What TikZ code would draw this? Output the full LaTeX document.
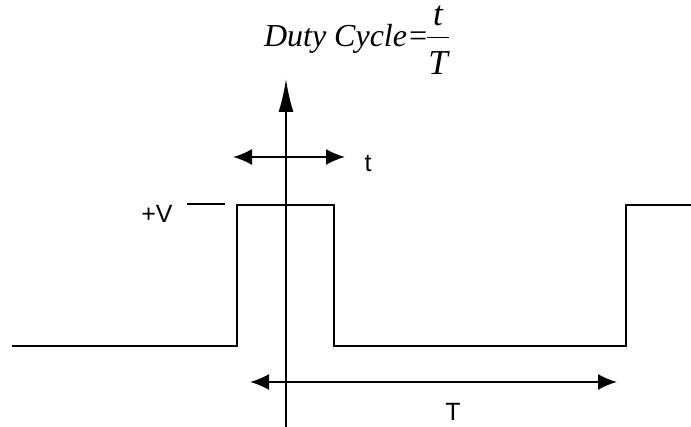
\documentclass[tikz,border=0pt]{standalone}
\usepackage{fontspec}
\setmainfont{Liberation Serif}
\setsansfont{Liberation Sans}
\usetikzlibrary{arrows.meta,positioning}

\begin{document}
\begin{tikzpicture}[x=1pt, y=-1pt, line width=2pt, >=Latex,
  every node/.style={inner sep=0pt, font=\sffamily\fontsize{25}{30}\selectfont},
  formula/.style={font=\rmfamily\itshape\fontsize{32}{38}\selectfont},
  ratio/.style={font=\rmfamily\itshape\fontsize{35}{42}\selectfont},
  span/.style={{Latex[length=19pt,width=16pt]}-{Latex[length=19pt,width=16pt]}},
  axis/.style={-{Latex[length=33pt,width=15pt]}}]
\useasboundingbox (0,0) rectangle (691,427);
% signal levels
\coordinate (start) at (12,346);
\coordinate (rise1) at (237,346);
\coordinate (fall1) at (334,205);
\coordinate (rise2) at (626,346);
\coordinate (stop) at (691,205);
\coordinate (origin) at (286,427);
\coordinate (top) at (286,79);
\coordinate (levelL) at (187,204);
\coordinate (levelR) at (225,204);
\coordinate (tL) at (233,157);
\coordinate (tR) at (345,157);
\coordinate (TL) at (250,382);
\coordinate (TR) at (617,382);
% duty cycle = t / T
\node (duty) [formula, anchor=base west] at (263,46.7) {Duty Cycle=};
\node (bar) [fill, minimum width=22pt, minimum height=1.5pt] at (438,37.7) {};
\node (num) [ratio, above=9pt of bar] {t};
\node (den) [ratio, below=11.5pt of bar] {T};
\node (vlabel) at (157,214) {+V};
\node (tlabel) at (368,164) {t};
\node (Tlabel) at (453,412) {T};
\draw (start) -- (rise1) |- (fall1) |- (rise2) |- (stop);
\draw[axis] (origin) -- (top);
\draw (levelL) -- (levelR);
\draw[span] (tL) -- (tR);
\draw[span] (TL) -- (TR);
\end{tikzpicture}
\end{document}
